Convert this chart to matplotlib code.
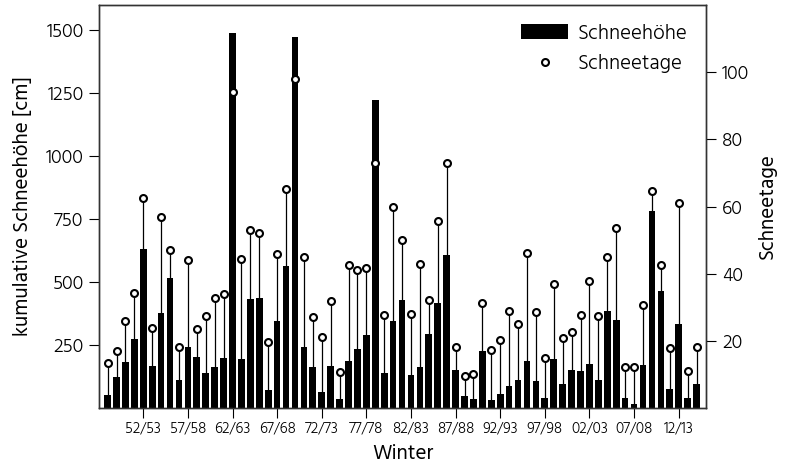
import matplotlib
matplotlib.use("Agg")
import matplotlib.pyplot as plt
import numpy as np

plt.rcParams['font.family'] = ['Hind', 'Open Sans', 'DejaVu Sans']
plt.rcParams['font.weight'] = 300

winters = ["48/49", "49/50", "50/51", "51/52", "52/53", "53/54", "54/55", "55/56", "56/57", "57/58",
           "58/59", "59/60", "60/61", "61/62", "62/63", "63/64", "64/65", "65/66", "66/67", "67/68",
           "68/69", "69/70", "70/71", "71/72", "72/73", "73/74", "74/75", "75/76", "76/77", "77/78",
           "78/79", "79/80", "80/81", "81/82", "82/83", "83/84", "84/85", "85/86", "86/87", "87/88",
           "88/89", "89/90", "90/91", "91/92", "92/93", "93/94", "94/95", "95/96", "96/97", "97/98",
           "98/99", "99/00", "00/01", "01/02", "02/03", "03/04", "04/05", "05/06", "06/07", "07/08",
           "08/09", "09/10", "10/11", "11/12", "12/13", "13/14", "14/15"]

schneehoehe = [53, 125, 181, 274, 630, 165, 377, 515, 112, 243,
               202, 140, 161, 200, 1488, 193, 433, 436, 70, 345,
               562, 1475, 244, 161, 65, 165, 36, 185, 235, 288,
               1225, 137, 344, 428, 133, 161, 292, 417, 607, 149,
               48, 37, 227, 33, 56, 88, 112, 187, 109, 38,
               193, 94, 149, 145, 175, 113, 384, 348, 40, 17,
               170, 784, 464, 74, 335, 38, 97]

schneetage = [13.3, 16.9, 25.9, 34.3, 62.4, 23.9, 57, 47, 18.3, 44,
              23.5, 27.4, 32.7, 34, 94, 44.4, 53, 52, 19.7, 46,
              65.3, 98, 45, 27, 21, 32, 10.6, 42.6, 41, 41.6,
              73, 27.6, 60, 50, 28, 43, 32.3, 55.6, 73, 18.3,
              9.5, 10.2, 31.3, 17.3, 20.3, 28.9, 25, 46.3, 28.6, 15,
              37, 20.7, 22.6, 27.7, 37.9, 27.4, 45, 53.6, 12.1, 12.1,
              30.7, 64.7, 42.6, 18, 61, 11, 18.3]

tick_labels = ["52/53", "57/58", "62/63", "67/68", "72/73", "77/78", "82/83", "87/88",
               "92/93", "97/98", "02/03", "07/08", "12/13"]

x = np.arange(len(winters))

fig = plt.figure(figsize=(7.89, 4.62), dpi=100)
ax = fig.add_axes([0.1261, 0.1169, 0.7687, 0.8721])
ax2 = ax.twinx()

ax.bar(x, schneehoehe, width=0.75, color='black', label='Schneehöhe', zorder=2)
ax2.vlines(x, 0, schneetage, color='black', linewidth=0.9, zorder=1)
ax2.plot(x, schneetage, linestyle='none', marker='o', markersize=5,
         markerfacecolor='white', markeredgecolor='black', markeredgewidth=1.5,
         label='Schneetage', zorder=3)

ax.set_xlim(-0.91, 67.06)
ax.set_ylim(0, 1600)
ax2.set_ylim(0, 120)

ax.set_yticks([250, 500, 750, 1000, 1250, 1500])
ax2.set_yticks([20, 40, 60, 80, 100])
tick_pos = [winters.index(t) for t in tick_labels]
ax.set_xticks(tick_pos)
ax.set_xticklabels(tick_labels, fontsize=11)
ax.tick_params(axis='x', length=7, width=0.8, pad=3)
ax.tick_params(axis='y', labelsize=14, length=7.5, width=0.8, pad=4)
ax2.tick_params(axis='y', labelsize=14, length=7.5, width=0.8, pad=4)

for a in (ax, ax2):
    for s in a.spines.values():
        s.set_color('#333333')
        s.set_linewidth(1.0)

ax.set_xlabel('Winter', fontsize=15, labelpad=6)
ax.set_ylabel('kumulative Schneehöhe [cm]', fontsize=15, labelpad=10)
ax2.set_ylabel('Schneetage', fontsize=15, labelpad=6)

h1, l1 = ax.get_legend_handles_labels()
h2, l2 = ax2.get_legend_handles_labels()
ax2.legend(h1 + h2, l1 + l2, loc='upper right', frameon=False, fontsize=15,
           handlelength=2.26, handleheight=0.77, borderaxespad=0.5, borderpad=0.4,
           labelspacing=0.55, handletextpad=0.45)

fig.savefig('out.png', dpi=100)
